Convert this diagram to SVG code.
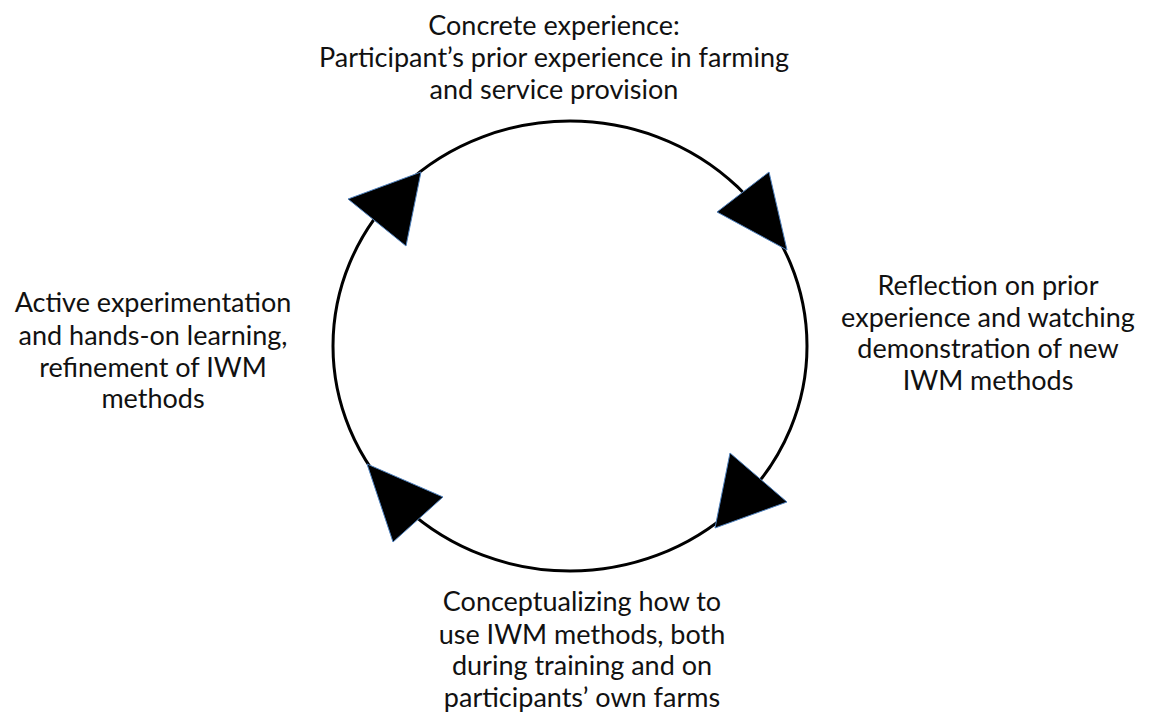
<svg xmlns="http://www.w3.org/2000/svg" width="1154" height="717" viewBox="0 0 1154 717">
<style>
.lbl{font-family:Lato,"Open Sans","Liberation Sans",sans-serif;font-size:27px;fill:#111;text-anchor:middle}
.ring{fill:none;stroke:#000;stroke-width:3}
.head{fill:#000;stroke:#4f81bd;stroke-width:1;stroke-linejoin:miter}
</style>
<rect width="1154" height="717" fill="#fff"/>
<g id="connectors">
<ellipse class="ring" cx="570" cy="346" rx="237" ry="225"/>
<polygon class="head" points="348,199 421,172 406,246"/>
<polygon class="head" points="717,212 769,172 787,250"/>
<polygon class="head" points="730,453 787,502 715,528"/>
<polygon class="head" points="367,464 443,497 393,542"/>
</g>
<g id="node-concrete">
<text class="lbl" x="554" y="35">Concrete experience:</text>
<text class="lbl" x="554" y="67">Participant’s prior experience in farming</text>
<text class="lbl" x="554" y="99">and service provision</text>
</g>
<g id="node-reflection">
<text class="lbl" x="988" y="295">Reflection on prior</text>
<text class="lbl" x="988" y="327">experience and watching</text>
<text class="lbl" x="988" y="358">demonstration of new</text>
<text class="lbl" x="988" y="390">IWM methods</text>
</g>
<g id="node-conceptualizing">
<text class="lbl" x="582" y="611">Conceptualizing how to</text>
<text class="lbl" x="582" y="644">use IWM methods, both</text>
<text class="lbl" x="582" y="675">during training and on</text>
<text class="lbl" x="582" y="707">participants’ own farms</text>
</g>
<g id="node-active">
<text class="lbl" x="153" y="312">Active experimentation</text>
<text class="lbl" x="153" y="345">and hands-on learning,</text>
<text class="lbl" x="153" y="377">refinement of IWM</text>
<text class="lbl" x="153" y="408">methods</text>
</g>
</svg>
